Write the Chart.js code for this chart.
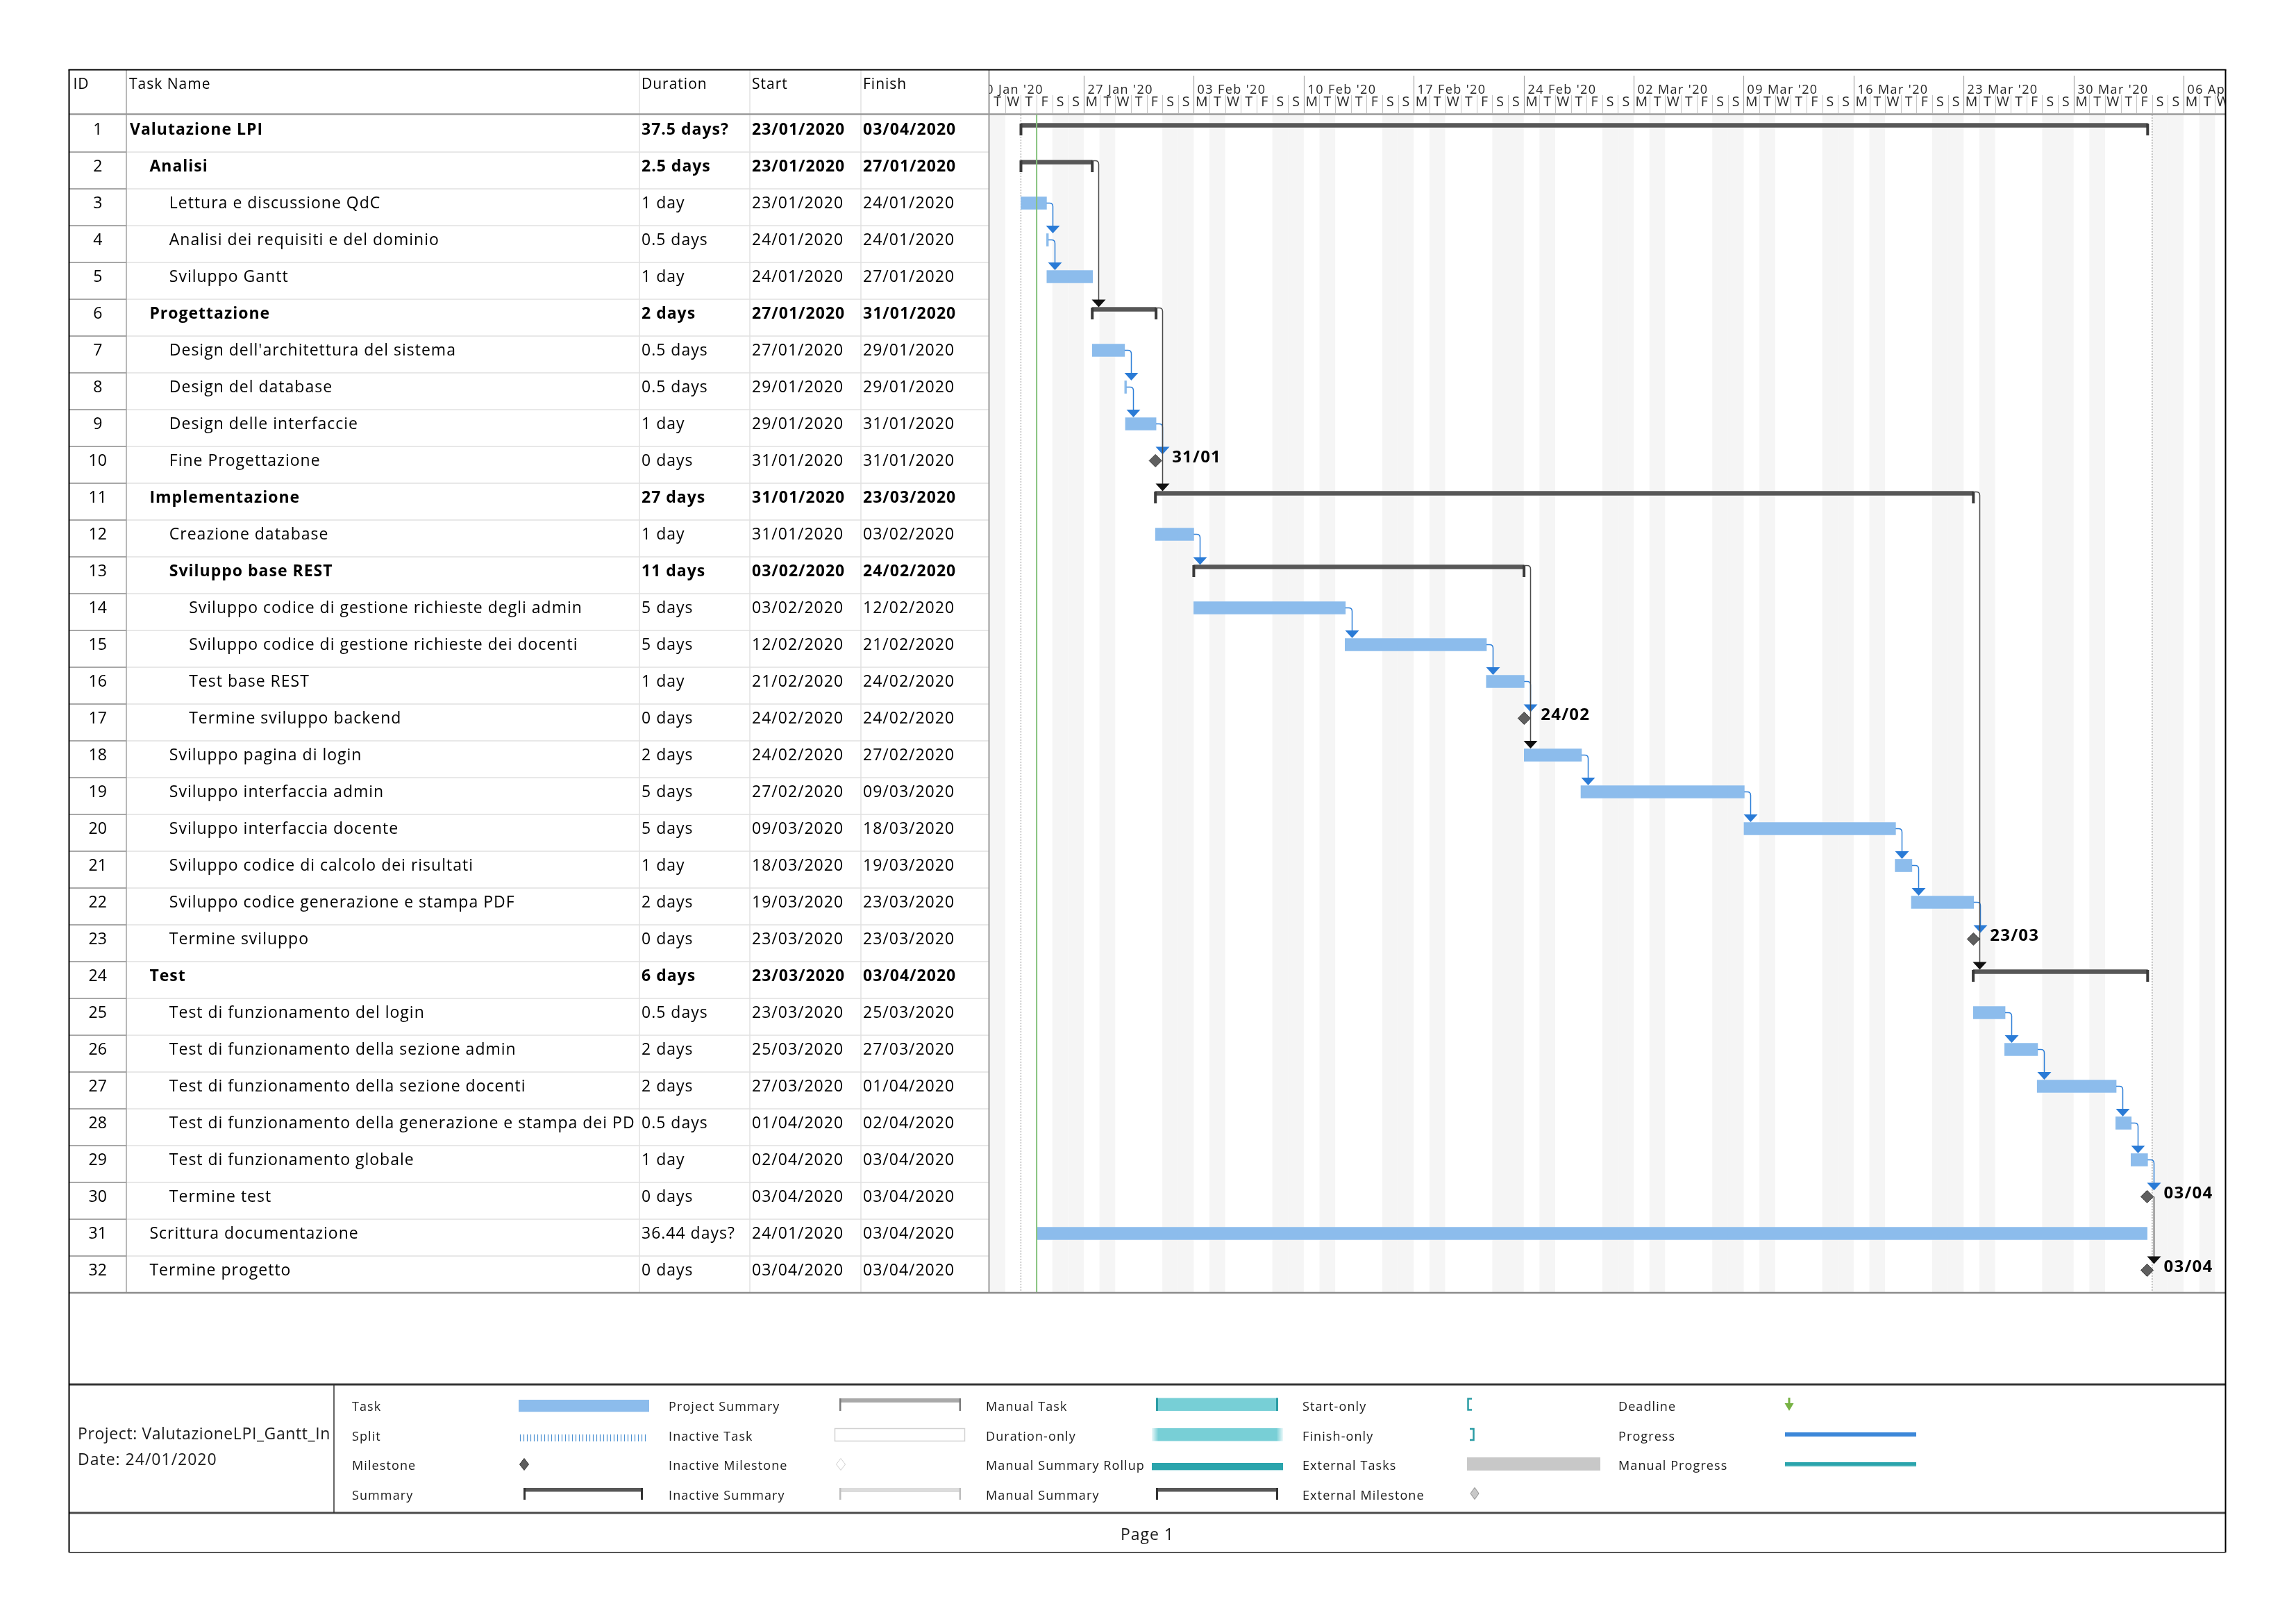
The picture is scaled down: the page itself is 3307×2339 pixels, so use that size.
<!DOCTYPE html>
<html lang="it">
<head>
<meta charset="utf-8">
<title>Valutazione LPI – Gantt</title>
<script src="https://cdn.jsdelivr.net/npm/chart.js@4.4.1/dist/chart.umd.min.js"></script>
<style>
html,body{margin:0;padding:0;background:#fff;overflow:hidden}
canvas{display:block}
</style>
</head>
<body>
<canvas id="gantt" width="3307" height="2339"></canvas>
<script>
// ===================== DATA =====================
const BASE_DATE = '2020-01-20';           // day 0 of the time axis (a Monday)
const taskIds = [1,2,3,4,5,6,7,8,9,10,11,12,13,14,15,16,17,18,19,20,21,22,23,24,25,26,27,28,29,30,31,32];
const taskNames = [
  'Valutazione LPI','Analisi','Lettura e discussione QdC','Analisi dei requisiti e del dominio','Sviluppo Gantt',
  'Progettazione',"Design dell'architettura del sistema",'Design del database','Design delle interfaccie','Fine Progettazione',
  'Implementazione','Creazione database','Sviluppo base REST','Sviluppo codice di gestione richieste degli admin','Sviluppo codice di gestione richieste dei docenti',
  'Test base REST','Termine sviluppo backend','Sviluppo pagina di login','Sviluppo interfaccia admin','Sviluppo interfaccia docente',
  'Sviluppo codice di calcolo dei risultati','Sviluppo codice generazione e stampa PDF','Termine sviluppo','Test','Test di funzionamento del login',
  'Test di funzionamento della sezione admin','Test di funzionamento della sezione docenti','Test di funzionamento della generazione e stampa dei PD','Test di funzionamento globale','Termine test',
  'Scrittura documentazione','Termine progetto'];
const taskLevels = [0,1,2,2,2,1,2,2,2,2,1,2,2,3,3,3,3,2,2,2,2,2,2,1,2,2,2,2,2,2,1,1];
const taskKinds = ['summary','summary','task','task','task','summary','task','task','task','milestone',
  'summary','task','summary','task','task','task','milestone','task','task','task',
  'task','task','milestone','summary','task','task','task','task','task','milestone','task','milestone'];
const durations = ['37.5 days?','2.5 days','1 day','0.5 days','1 day','2 days','0.5 days','0.5 days','1 day','0 days',
  '27 days','1 day','11 days','5 days','5 days','1 day','0 days','2 days','5 days','5 days',
  '1 day','2 days','0 days','6 days','0.5 days','2 days','2 days','0.5 days','1 day','0 days','36.44 days?','0 days'];
const startDates = ['23/01/2020','23/01/2020','23/01/2020','24/01/2020','24/01/2020','27/01/2020','27/01/2020','29/01/2020','29/01/2020','31/01/2020',
  '31/01/2020','31/01/2020','03/02/2020','03/02/2020','12/02/2020','21/02/2020','24/02/2020','24/02/2020','27/02/2020','09/03/2020',
  '18/03/2020','19/03/2020','23/03/2020','23/03/2020','23/03/2020','25/03/2020','27/03/2020','01/04/2020','02/04/2020','03/04/2020','24/01/2020','03/04/2020'];
const finishDates = ['03/04/2020','27/01/2020','24/01/2020','24/01/2020','27/01/2020','31/01/2020','29/01/2020','29/01/2020','31/01/2020','31/01/2020',
  '23/03/2020','03/02/2020','24/02/2020','12/02/2020','21/02/2020','24/02/2020','24/02/2020','27/02/2020','09/03/2020','18/03/2020',
  '19/03/2020','23/03/2020','23/03/2020','03/04/2020','25/03/2020','27/03/2020','01/04/2020','02/04/2020','03/04/2020','03/04/2020','03/04/2020','03/04/2020'];
// bar extents, in days after BASE_DATE
const barStart = [3.00,3.00,3.00,4.63,4.65,7.54,7.54,9.60,9.65,11.56,
  11.56,11.56,14.00,14.00,23.63,32.62,35.03,35.03,38.64,49.02,
  58.64,59.67,63.62,63.61,63.62,65.61,67.68,72.68,73.65,74.68,4.01,74.68];
const barEnd = [74.71,7.54,4.63,4.75,7.56,11.60,9.60,9.72,11.60,11.56,
  63.62,14.00,35.02,23.65,32.63,35.03,35.03,38.68,49.04,58.67,
  59.71,63.64,63.62,74.71,65.64,67.71,72.71,73.67,74.71,74.68,74.68,74.68];
const barLabels = ['','','','','','','','','','31/01','','','','','','','24/02','','','','','','23/03','','','','','','','03/04','','03/04'];
// dependency links (predecessor -> successor), 'b' = task link, 'k' = summary link
const linkFrom  = [3,4,2,7,8,9,6,12,14,15,16,13,18,19,20,21,22,11,25,26,27,28,29,30];
const linkTo    = [4,5,6,8,9,10,11,13,15,16,17,18,19,20,21,22,23,24,26,27,28,29,30,32];
const linkStyle = ['b','b','k','b','b','b','k','b','b','b','b','k','b','b','b','b','b','k','b','b','b','b','b','k'];
// timescale
const weekStartDays = [0,7,14,21,28,35,42,49,56,63,70,77];
const weekLabels = ["20 Jan '20","27 Jan '20","03 Feb '20","10 Feb '20","17 Feb '20","24 Feb '20","02 Mar '20","09 Mar '20","16 Mar '20","23 Mar '20","30 Mar '20","06 Apr '20"];
const dayLetters = ['M','T','W','T','F','S','S'];
const nonWorkingWeekdays = [1,5,6];   // Tue, Sat, Sun
const viewStartDay = 0.99, viewEndDay = 79.69;
const projectStartDay = 3.0, projectFinishDay = 75.0, statusDay = 4.0;
const tableColumns = ['ID','Task Name','Duration','Start','Finish'];
// legend
const legendCol1 = ['Task','Split','Milestone','Summary'];
const legendCol2 = ['Project Summary','Inactive Task','Inactive Milestone','Inactive Summary'];
const legendCol3 = ['Manual Task','Duration-only','Manual Summary Rollup','Manual Summary'];
const legendCol4 = ['Start-only','Finish-only','External Tasks','External Milestone'];
const legendCol5 = ['Deadline','Progress','Manual Progress'];
const projectInfo = ['Project: ValutazioneLPI_Gantt_In','Date: 24/01/2020'];
const pageLabel = 'Page 1';

// ===================== LAYOUT =====================
const W = 3307, H = 2339;
const FONT = '"Open Sans", "Noto Sans", "DejaVu Sans", sans-serif';
const FRAME_L = 99.5, FRAME_R = 3205.5, FRAME_T = 100.5, FRAME_B = 2236;
const HEAD_B = 165, TABLE_B = 1862;
const COLS = [99.5, 182, 921, 1080, 1240, 1424.5];
const ROW_H = 53, BAR_OFF = 20.5;
const LEG_T = 1994, LEG_B = 2179, LEG_SEP = 481;

function line(ctx, x1, y1, x2, y2, color, w, dash) {
  ctx.save();
  ctx.strokeStyle = color; ctx.lineWidth = w;
  if (dash) ctx.setLineDash(dash);
  ctx.beginPath(); ctx.moveTo(x1, y1); ctx.lineTo(x2, y2); ctx.stroke();
  ctx.restore();
}
function text(ctx, s, x, y, font, color, align, spacing) {
  ctx.save();
  ctx.font = font; ctx.fillStyle = color || '#000';
  ctx.textAlign = align || 'left'; ctx.textBaseline = 'alphabetic';
  if ('letterSpacing' in ctx) ctx.letterSpacing = (spacing || 0) + 'px';
  ctx.fillText(s, x, y);
  ctx.restore();
}
function rect(ctx, x, y, w, h, c) { ctx.fillStyle = c; ctx.fillRect(x, y, w, h); }
function diamond(ctx, x, y, hw, hh, fill, stroke) {
  ctx.beginPath(); ctx.moveTo(x - hw, y); ctx.lineTo(x, y - hh); ctx.lineTo(x + hw, y); ctx.lineTo(x, y + hh); ctx.closePath();
  ctx.fillStyle = fill; ctx.fill();
  if (stroke) { ctx.strokeStyle = stroke; ctx.lineWidth = 1; ctx.stroke(); }
}

function drawShading(ctx, chart) {
  const X = chart.scales.x, a = chart.chartArea;
  ctx.fillStyle = '#f5f5f5';
  for (let d = Math.floor(viewStartDay); d < Math.ceil(viewEndDay); d++) {
    if (!nonWorkingWeekdays.includes(d % 7)) continue;
    const x1 = Math.max(a.left, X.getPixelForValue(d));
    const x2 = Math.min(a.right, X.getPixelForValue(d + 1));
    if (x2 > x1) ctx.fillRect(x1, HEAD_B, x2 - x1, TABLE_B - HEAD_B);
  }
  line(ctx, X.getPixelForValue(projectStartDay), HEAD_B, X.getPixelForValue(projectStartDay), TABLE_B, '#8a8a8a', 1, [2, 2]);
  line(ctx, X.getPixelForValue(projectFinishDay), HEAD_B, X.getPixelForValue(projectFinishDay), TABLE_B, '#8a8a8a', 1, [2, 2]);
}

function drawTable(ctx, chart) {
  const Y = chart.scales.y;
  const hf = '21px ' + FONT;
  text(ctx, tableColumns[0], COLS[0] + 6, 127.5, hf, '#000', 'left', 1);
  text(ctx, tableColumns[1], COLS[1] + 4, 127.5, hf, '#000', 'left', 1);
  text(ctx, tableColumns[2], COLS[2] + 3, 127.5, hf, '#000', 'left', 1);
  text(ctx, tableColumns[3], COLS[3] + 3, 127.5, hf, '#000', 'left', 1);
  text(ctx, tableColumns[4], COLS[4] + 3, 127.5, hf, '#000', 'left', 1);
  for (let i = 0; i < taskIds.length; i++) {
    const top = Y.getPixelForValue(taskIds[i]) - BAR_OFF;
    const bottom = top + ROW_H;
    if (i < taskIds.length - 1) {
      line(ctx, COLS[1], bottom, COLS[5], bottom, '#e0e0e0', 1.5);
      line(ctx, COLS[0], bottom, COLS[1], bottom, '#a8a8a8', 2);
    }
    const base = top + 28;
    const bold = taskKinds[i] === 'summary';
    const f = (bold ? 'bold ' : '') + '23px ' + FONT;
    text(ctx, String(taskIds[i]), (COLS[0] + COLS[1]) / 2, base, '23px ' + FONT, '#000', 'center', 0);
    ctx.save();
    ctx.beginPath(); ctx.rect(COLS[1], top, COLS[2] - COLS[1] - 1, ROW_H); ctx.clip();
    text(ctx, taskNames[i], 187 + taskLevels[i] * 28.4, base, f, '#000', 'left', 1);
    ctx.restore();
    text(ctx, durations[i], COLS[2] + 3, base, f, '#000', 'left', 1);
    text(ctx, startDates[i], COLS[3] + 3, base, f, '#000', 'left', 1);
    text(ctx, finishDates[i], COLS[4] + 3, base, f, '#000', 'left', 1);
  }
  [COLS[2], COLS[3], COLS[4]].forEach(x => line(ctx, x, FRAME_T, x, TABLE_B, '#e2e2e2', 1.5));
  line(ctx, COLS[1], FRAME_T, COLS[1], TABLE_B, '#a0a0a0', 1.5);
  line(ctx, COLS[5], FRAME_T, COLS[5], TABLE_B, '#9a9a9a', 2);
  line(ctx, FRAME_L, HEAD_B - 0.5, FRAME_R, HEAD_B - 0.5, '#9a9a9a', 2.5);
}

function drawTimescale(ctx, chart) {
  const X = chart.scales.x, a = chart.chartArea;
  ctx.save();
  ctx.beginPath(); ctx.rect(a.left, FRAME_T, a.right - a.left, HEAD_B - FRAME_T - 2); ctx.clip();
  for (let d = Math.floor(viewStartDay); d <= Math.ceil(viewEndDay); d++) {
    const x = Math.round(X.getPixelForValue(d)) + 0.5;
    line(ctx, x, 137, x, HEAD_B, '#c4c4c4', 1);
    text(ctx, dayLetters[d % 7], X.getPixelForValue(d + 0.5), 152.5, '19.5px ' + FONT, '#262626', 'center', 0);
  }
  weekStartDays.forEach((d, k) => {
    const x = Math.round(X.getPixelForValue(d)) + 0.5;
    line(ctx, x, 109, x, HEAD_B, '#a8a8a8', 1.2);
    text(ctx, weekLabels[k], x + 5, 134.5, '18px ' + FONT, '#262626', 'left', 1.4);
  });
  ctx.restore();
}

function drawLegend(ctx) {
  const cols = [507, 963, 1420, 1876, 2331];
  const rows = [2025, 2068, 2110, 2153];
  const lf = '18px ' + FONT;
  [legendCol1, legendCol2, legendCol3, legendCol4, legendCol5].forEach((col, c) =>
    col.forEach((s, r) => text(ctx, s, cols[c], rows[r] + 6.5, lf, '#1a1a1a', 'left', 1.1)));
  ctx.save();
  ctx.beginPath(); ctx.rect(FRAME_L, LEG_T, LEG_SEP - FRAME_L - 1, LEG_B - LEG_T); ctx.clip();
  text(ctx, projectInfo[0], 112, 2073, '23px ' + FONT, '#1a1a1a', 'left', 0.6);
  text(ctx, projectInfo[1], 112, 2109.5, '23px ' + FONT, '#1a1a1a', 'left', 1);
  ctx.restore();
  // Task
  rect(ctx, 747, 2016, 188, 17.5, '#8cbcec');
  // Split
  for (let x = 749; x <= 933; x += 5) line(ctx, x + 0.5, 2066, x + 0.5, 2076, '#4a8fd0', 1.2);
  // Milestone
  diamond(ctx, 755, 2109, 6.5, 8.5, '#5e5e5e', '#333');
  // Summary
  rect(ctx, 754, 2143, 172, 5.5, '#575757');
  rect(ctx, 754, 2143, 3, 17, '#333'); rect(ctx, 923, 2143, 3, 17, '#333');
  // Project Summary
  rect(ctx, 1209, 2014, 175, 6, '#a9a9a9');
  rect(ctx, 1209, 2014, 2.5, 18, '#7a7a7a'); rect(ctx, 1381.5, 2014, 2.5, 18, '#7a7a7a');
  // Inactive Task
  ctx.strokeStyle = '#d2d2d2'; ctx.lineWidth = 1.5; ctx.strokeRect(1202.5, 2057.5, 187, 18);
  // Inactive Milestone
  diamond(ctx, 1211, 2109, 6.5, 8.5, '#ffffff', '#cfcfcf');
  // Inactive Summary
  rect(ctx, 1209, 2143, 175, 6, '#dcdcdc');
  rect(ctx, 1209, 2143, 2.5, 17, '#bdbdbd'); rect(ctx, 1381.5, 2143, 2.5, 17, '#bdbdbd');
  // Manual Task
  rect(ctx, 1665, 2013.5, 176, 18.5, '#77cfd6');
  rect(ctx, 1665, 2013.5, 3, 18.5, '#2a9ca4'); rect(ctx, 1838, 2013.5, 3, 18.5, '#2a9ca4');
  // Duration-only
  const g = ctx.createLinearGradient(1659, 0, 1848, 0);
  g.addColorStop(0, '#eaf8f9'); g.addColorStop(0.05, '#78cfd6'); g.addColorStop(0.95, '#78cfd6'); g.addColorStop(1, '#eaf8f9');
  rect(ctx, 1659, 2057, 189, 18.5, g);
  // Manual Summary Rollup
  rect(ctx, 1659, 2107, 189, 10, '#2aa4ac'); rect(ctx, 1659, 2117, 189, 1.5, '#bfe6e9');
  // Manual Summary
  rect(ctx, 1665, 2143, 176, 5.5, '#575757');
  rect(ctx, 1665, 2143, 3, 17, '#333'); rect(ctx, 1838, 2143, 3, 17, '#333');
  // Start-only [
  ctx.strokeStyle = '#2a9ca4'; ctx.lineWidth = 2.5;
  ctx.beginPath(); ctx.moveTo(2120, 2014.5); ctx.lineTo(2114.5, 2014.5); ctx.lineTo(2114.5, 2030.5); ctx.lineTo(2120, 2030.5); ctx.stroke();
  // Finish-only ]
  ctx.beginPath(); ctx.moveTo(2117, 2058); ctx.lineTo(2122.5, 2058); ctx.lineTo(2122.5, 2074); ctx.lineTo(2117, 2074); ctx.stroke();
  // External Tasks
  rect(ctx, 2113, 2099, 192, 19, '#c8c8c8');
  // External Milestone
  diamond(ctx, 2124, 2151, 6, 8.5, '#c8c8c8', '#8c8c8c');
  // Deadline
  rect(ctx, 2575.5, 2013, 3, 9, '#77b244');
  ctx.beginPath(); ctx.moveTo(2570.5, 2021); ctx.lineTo(2583.5, 2021); ctx.lineTo(2577, 2032); ctx.closePath(); ctx.fillStyle = '#77b244'; ctx.fill();
  // Progress / Manual Progress
  rect(ctx, 2571, 2063, 189, 6, '#3c87d8');
  rect(ctx, 2571, 2106, 189, 5.5, '#2aa4ac'); rect(ctx, 2571, 2111.5, 189, 1.5, '#bfe6e9');
  // Page footer
  text(ctx, pageLabel, (FRAME_L + FRAME_R) / 2, 2218, '23px ' + FONT, '#1a1a1a', 'center', 1);
}

function drawFrame(ctx) {
  line(ctx, FRAME_L, TABLE_B, FRAME_R, TABLE_B, '#8c8c8c', 2.5);
  line(ctx, FRAME_L, LEG_T, FRAME_R, LEG_T, '#333', 3);
  line(ctx, FRAME_L, LEG_B, FRAME_R, LEG_B, '#4a4a4a', 3);
  line(ctx, LEG_SEP, LEG_T, LEG_SEP, LEG_B, '#333', 1.5);
  line(ctx, FRAME_L - 1, FRAME_T, FRAME_R + 1, FRAME_T, '#000', 2);
  line(ctx, FRAME_L, FRAME_T, FRAME_L, FRAME_B, '#000', 2);
  line(ctx, FRAME_R, FRAME_T, FRAME_R, FRAME_B, '#000', 2);
  line(ctx, FRAME_L, FRAME_B, FRAME_R, FRAME_B, '#555', 2);
}

function drawLinks(ctx, chart) {
  const X = chart.scales.x, Y = chart.scales.y, YS = chart.scales.ys;
  ctx.save();
  linkFrom.forEach((from, k) => {
    const a = taskIds.indexOf(from), b = taskIds.indexOf(linkTo[k]);
    const black = linkStyle[k] === 'k';
    const lineC = black ? '#4a4a4a' : '#2e7fd8', headC = black ? '#111' : '#2a7bd6';
    const xe = X.getPixelForValue(barEnd[a]);
    const lx = Math.round(xe + 9) + 0.5;
    let y0;
    if (taskKinds[a] === 'summary') y0 = YS.getPixelForValue(taskIds[a]) - 2;
    else y0 = Y.getPixelForValue(taskIds[a]);
    let tip;
    if (taskKinds[b] === 'summary') tip = YS.getPixelForValue(taskIds[b]) - 3;
    else if (taskKinds[b] === 'milestone') tip = Y.getPixelForValue(taskIds[b]) - 9;
    else tip = Y.getPixelForValue(taskIds[b]) - 9.5;
    ctx.strokeStyle = lineC; ctx.lineWidth = 1.5;
    ctx.beginPath();
    if (taskKinds[a] === 'milestone') {
      ctx.moveTo(lx, y0);
    } else {
      ctx.moveTo(xe, y0);
      ctx.lineTo(lx - 5, y0);
      ctx.quadraticCurveTo(lx, y0, lx, y0 + 5);
    }
    ctx.lineTo(lx, tip - 9);
    ctx.stroke();
    ctx.fillStyle = headC;
    ctx.beginPath();
    ctx.moveTo(lx - 10, tip - 11); ctx.lineTo(lx + 10, tip - 11); ctx.lineTo(lx, tip); ctx.closePath();
    ctx.fill();
  });
  ctx.restore();
}

function drawMilestoneLabels(ctx, chart) {
  const X = chart.scales.x, Y = chart.scales.y;
  taskIds.forEach((id, i) => {
    if (!barLabels[i]) return;
    text(ctx, barLabels[i], X.getPixelForValue(barStart[i]) + 24, Y.getPixelForValue(id) + 2.5, 'bold 24px ' + FONT, '#000', 'left', 1.2);
  });
}

function drawStatus(ctx, chart) {
  const X = chart.scales.x;
  const x = X.getPixelForValue(statusDay);
  line(ctx, x, HEAD_B, x, TABLE_B - 1, '#86c27d', 2);
}

const projectPlugin = {
  id: 'msproject',
  beforeDraw(chart) {
    const ctx = chart.ctx;
    ctx.save();
    ctx.fillStyle = '#fff'; ctx.fillRect(0, 0, W, H);
    drawShading(ctx, chart);
    drawTable(ctx, chart);
    drawTimescale(ctx, chart);
    drawLegend(ctx);
    ctx.restore();
  },
  afterDatasetsDraw(chart) {
    const ctx = chart.ctx;
    ctx.save();
    drawLinks(ctx, chart);
    drawMilestoneLabels(ctx, chart);
    drawStatus(ctx, chart);
    ctx.restore();
  },
  afterDraw(chart) {
    const ctx = chart.ctx;
    ctx.save(); drawFrame(ctx); ctx.restore();
  }
};

// ===================== CHART =====================
function build() {
  const idx = taskIds.map((_, i) => i);
  const taskBars = idx.filter(i => taskKinds[i] === 'task').map(i => ({ x: [barStart[i], barEnd[i]], y: taskIds[i] }));
  const summaryBars = idx.filter(i => taskKinds[i] === 'summary').map(i => ({ x: [barStart[i], barEnd[i]], y: taskIds[i] }));
  const summaryEnds = idx.filter(i => taskKinds[i] === 'summary').flatMap(i => [{ x: barStart[i], y: taskIds[i] }, { x: barEnd[i], y: taskIds[i] }]);
  const milestones = idx.filter(i => taskKinds[i] === 'milestone').map(i => ({ x: barStart[i], y: taskIds[i] }));

  const noAxis = { display: false, offset: false, grid: { offset: false, display: false }, ticks: { display: false } };
  new Chart(document.getElementById('gantt'), {
    type: 'bar',
    data: {
      datasets: [
        { type: 'bar', label: 'Task', indexAxis: 'y', data: taskBars, xAxisID: 'x', yAxisID: 'y',
          backgroundColor: '#8cbcec', borderWidth: 0, barThickness: 18, grouped: false, order: 4 },
        { type: 'bar', label: 'Summary', indexAxis: 'y', data: summaryBars, xAxisID: 'x', yAxisID: 'ys',
          backgroundColor: '#575757', borderWidth: 0, barThickness: 6, grouped: false, order: 3 },
        { type: 'scatter', label: 'Summary ends', data: summaryEnds, xAxisID: 'x', yAxisID: 'y',
          pointStyle: 'line', pointRotation: 90, pointRadius: 8.5, pointHoverRadius: 8.5,
          pointBorderColor: '#3a3a3a', pointBackgroundColor: '#3a3a3a', pointBorderWidth: 4, order: 2 },
        { type: 'scatter', label: 'Milestone', data: milestones, xAxisID: 'x', yAxisID: 'y',
          pointStyle: 'rectRot', pointRadius: 9, pointHoverRadius: 9,
          pointBackgroundColor: '#5f5f5f', pointBorderColor: '#3a3a3a', pointBorderWidth: 1, order: 1 }
      ]
    },
    options: {
      responsive: false,
      animation: false,
      devicePixelRatio: 1,
      events: [],
      layout: { padding: { left: 1425, right: W - 3206, top: HEAD_B + 1, bottom: H - TABLE_B } },
      plugins: { legend: { display: false }, tooltip: { enabled: false }, title: { display: false } },
      scales: {
        x: Object.assign({ type: 'linear', min: viewStartDay, max: viewEndDay, position: 'bottom' }, noAxis),
        y: Object.assign({ type: 'linear', min: 1 - BAR_OFF / ROW_H, max: 1 - BAR_OFF / ROW_H + taskIds.length, reverse: true, position: 'left' }, noAxis),
        ys: Object.assign({ type: 'linear', min: 1 - 14.5 / ROW_H, max: 1 - 14.5 / ROW_H + taskIds.length, reverse: true, position: 'left' }, noAxis)
      }
    },
    plugins: [projectPlugin]
  });
}

Promise.all([
  document.fonts.load('22px "Open Sans"'),
  document.fonts.load('bold 22px "Open Sans"')
]).catch(() => {}).then(build);
</script>
</body>
</html>
